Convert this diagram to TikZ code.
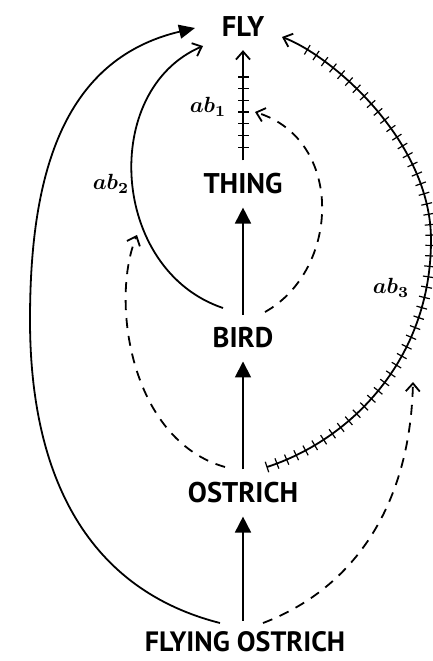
\documentclass[tikz,border=0pt]{standalone}
\usepackage{fontspec}
\usepackage{bm}
\setmainfont{PT Sans}
\usetikzlibrary{arrows.meta,decorations.markings}
\begin{document}
\begin{tikzpicture}[x=1pt,y=-1pt,
  word/.style={font=\fontsize{28.5}{28.5}\selectfont\bfseries, inner xsep=3pt, inner ysep=13pt},
  isa/.style={line width=1.8pt, -{Triangle[length=16pt,width=16pt]}},
  link/.style={line width=1.8pt, -{Straight Barb[length=8pt,width=14pt]}},
  biglink/.style={line width=1.8pt, -{Triangle[length=16pt,width=14pt]}},
  dashlink/.style={link, dash pattern=on 10pt off 8pt},
  hatch/.style={postaction={decorate}, decoration={markings, mark=between positions #1 with {\draw[line width=1.2pt,solid,arrows=-] (0,-5.5pt) -- (0,5.5pt);}}},
  abl/.style={inner sep=0pt}
]
\useasboundingbox (0,0) rectangle (433,661);
% nodes
\node[word] (FLY) at (243,27) {FLY};
\node[word] (THING) at (243,184) {THING};
\node[word] (BIRD) at (243,338) {BIRD};
\node[word] (OSTRICH) at (243,493) {OSTRICH};
\node[word, font=\fontsize{28}{28}\selectfont\bfseries, inner ysep=2pt] (FO) at (245,642) {FLYING OSTRICH};
% free ends
\coordinate (c1) at (137,235);
\coordinate (d1) at (255,112);
\coordinate (f1) at (413,382);
% labels
\node[abl] (l1) at (208,107) {\scalebox{2.2}{$\bm{ab}_{\bm{1}}$}};
\node[abl] (l2) at (111,184) {\scalebox{2.2}{$\bm{ab}_{\bm{2}}$}};
\node[abl] (l3) at (391,288) {\scalebox{2.2}{$\bm{ab}_{\bm{3}}$}};
% straight links
\draw[link, hatch={0.12 and 0.8 step 11.7pt}] (THING.north) -- (FLY.south);
\draw[isa] (BIRD.north) -- (THING.south);
\draw[isa] (OSTRICH.north) -- (BIRD.south);
\draw[isa, shorten <=9pt] (FO.north -| OSTRICH.south) -- (OSTRICH.south);
% ab2 curve
\draw[link] ([shift={(-20,-30)}]BIRD.center) .. controls (110,270) and (100,90) .. ([shift={(-40,19)}]FLY.center);
% outer curve
\draw[biglink] ([shift={(-25,-19)}]FO.center) .. controls (90,590) and (30,480) .. (30,320) .. controls (30,180) and (60,60) .. ([shift={(-48,1)}]FLY.center);
% dashed ostrich -> ab2
\draw[dashlink] ([shift={(-18,-26)}]OSTRICH.center) .. controls (130,440) and (110,300) .. (c1);
% dashed bird -> ab1
\draw[dashlink] ([shift={(22,-26)}]BIRD.center) .. controls (340,270) and (345,140) .. (d1);
% ab3 hatched
\draw[link, hatch={0.0 and 0.96 step 10.5pt}] ([shift={(24,-26)}]OSTRICH.center) .. controls (350,440) and (431,360) .. (431,240) .. controls (431,140) and (330,55) .. ([shift={(39,10)}]FLY.center);
% dashed flying ostrich -> ab3
\draw[dashlink] ([shift={(18,-19)}]FO.center) .. controls (350,590) and (410,510) .. (f1);
\end{tikzpicture}
\end{document}
